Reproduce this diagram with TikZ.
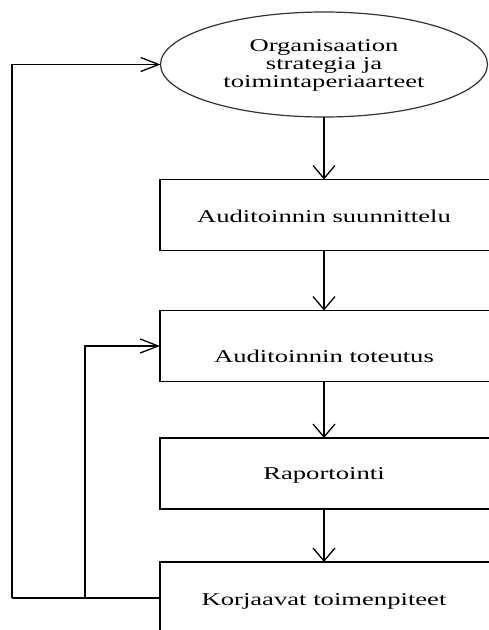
\documentclass[tikz,border=0pt]{standalone}
\usepackage{fontspec}
\setmainfont{Liberation Serif}
\usetikzlibrary{arrows.meta,shapes.geometric}
% text is set wide, stretched horizontally
\newcommand{\widetxt}[1]{\scalebox{1.48}[1]{#1}}
\begin{document}
\begin{tikzpicture}[x=1pt,y=-1pt,
  every node/.style={inner sep=0pt,outer sep=0pt},
  stepbox/.style={draw=black,line width=1.3pt,rectangle,minimum width=340pt,minimum height=71pt},
  goal/.style={draw=black!80,line width=1.2pt,ellipse,minimum width=327pt,minimum height=105pt},
  lbl/.style={font=\fontsize{18}{18}\selectfont,text=black,align=center},
  link/.style={draw=black,line width=1.3pt},
  varr/.style={link,-{Straight Barb[length=13pt,width=22pt,line width=1.3pt]}},
  harr/.style={link,-{Straight Barb[length=18pt,width=14pt,line width=1.3pt]}}]
\useasboundingbox (0,0) rectangle (489,630);
\clip (0,0) rectangle (489,630);
\fill[white] (0,0) rectangle (489,630);

% strategy ellipse
\node[goal] (ell) at (324,64.5) {};
\node[lbl] (tell) at (324,65) {\widetxt{Organisaation}\\\widetxt{strategia ja}\\\widetxt{toimintaperiaarteet}};

% process steps (they run off the right edge)
\node[stepbox] (b1) at (330,215) {};
\node[stepbox] (b2) at (330,346) {};
\node[stepbox] (b3) at (330,473.5) {};
\node[stepbox,minimum height=72pt] (b4) at (330,598) {};

\node[lbl,anchor=base] (t1) at (324,222) {\widetxt{Auditoinnin suunnittelu}};
\node[lbl,anchor=base] (t2) at (324,362) {\widetxt{Auditoinnin toteutus}};
\node[lbl,anchor=base] (t3) at (324,479) {\widetxt{Raportointi}};
\node[lbl,anchor=base] (t4) at (324,605) {\widetxt{Korjaavat toimenpiteet}};

% main flow
\draw[varr] (ell.south) -- (ell.south |- b1.north);
\draw[varr] (ell.south |- b1.south) -- (ell.south |- b2.north);
\draw[varr] (ell.south |- b2.south) -- (ell.south |- b3.north);
\draw[varr] (ell.south |- b3.south) -- (ell.south |- b4.north);

% feedback loops
\coordinate (outer) at (12,598);
\coordinate (inner) at (85,598);
\draw[link] (b4.west) -- (outer);
\draw[harr] (outer) |- (ell.west);
\draw[harr] (inner) |- (b2.west);
\end{tikzpicture}
\end{document}
